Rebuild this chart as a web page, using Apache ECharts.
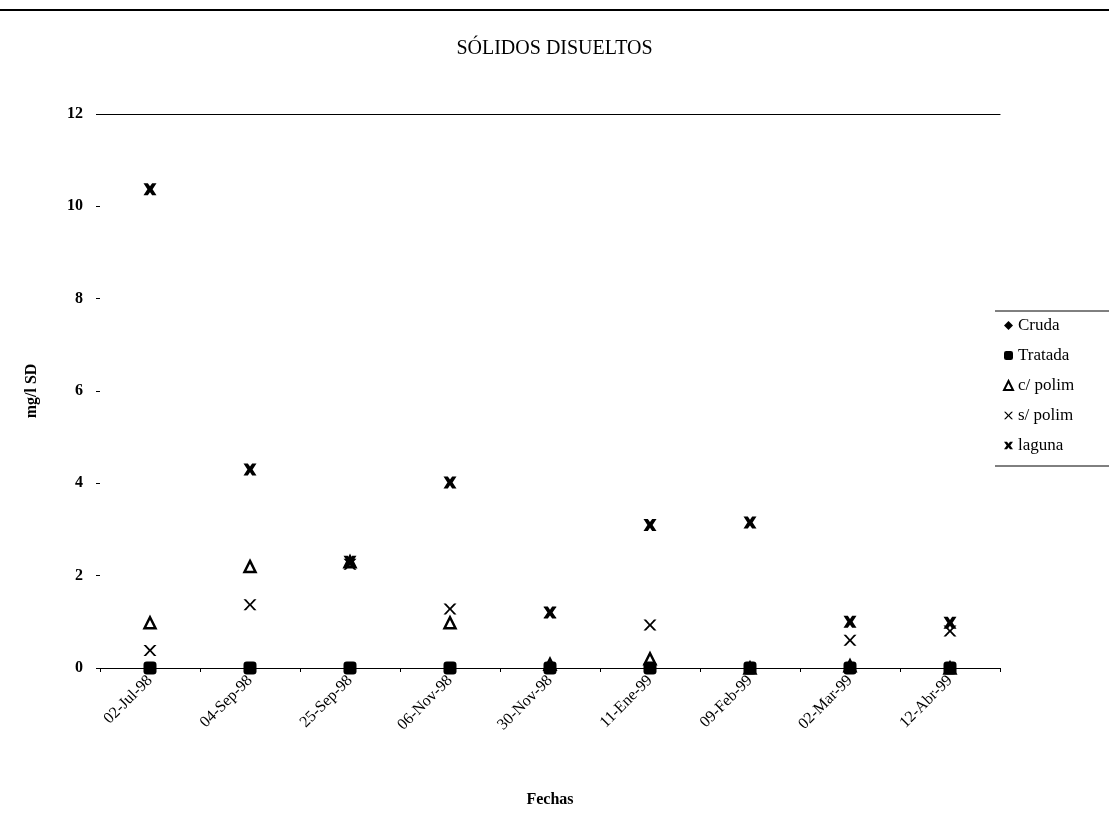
<!DOCTYPE html>
<html>
<head>
<meta charset="utf-8">
<script src="https://cdn.jsdelivr.net/npm/echarts@6/dist/echarts.min.js"></script>
<style>
  html, body { margin: 0; padding: 0; background: #fff; }
  #chart { width: 1109px; height: 830px; }
</style>
</head>
<body>
<div id="chart"></div>
<script>
// Sampling dates
const fechas = ['02-Jul-98', '04-Sep-98', '25-Sep-98', '06-Nov-98', '30-Nov-98', '11-Ene-99', '09-Feb-99', '02-Mar-99', '12-Abr-99'];

// Dissolved solids, mg/l
const cruda   = [0, 0, 0, 0, 0, 0, 0, 0, 0];
const tratada = [0, 0, 0, 0, 0, 0, 0, 0, 0];
const cPolim  = [0.98, 2.2, 2.3, 0.98, 0.08, 0.2, 0, 0.05, 0];
const sPolim  = [0.38, 1.37, 2.25, 1.28, 1.2, 0.93, null, 0.6, 0.8];
const laguna  = [10.37, 4.3, 2.3, 4.02, 1.2, 3.1, 3.15, 1.0, 0.98];

const yTicks = [0, 2, 4, 6, 8, 10, 12];

const serif = 'Liberation Serif';

const thinX = 'path://M0,0 L2.3,0 L6,4 L9.7,0 L12,0 L7.2,5 L12,10 L9.7,10 L6,6 L2.3,10 L0,10 L4.8,5 Z';
const boldX = 'path://M0,0 L4,0 L6,2.6 L8,0 L12,0 L8.4,5 L12,10 L8,10 L6,7.4 L4,10 L0,10 L3.6,5 Z';

function scatter(name, data, symbol, size, itemStyle, z) {
  return {
    name: name,
    type: 'scatter',
    data: data,
    symbol: symbol,
    symbolSize: size,
    itemStyle: Object.assign({ opacity: 1 }, itemStyle),
    z: z,
    emphasis: { disabled: true }
  };
}

const chart = echarts.init(document.getElementById('chart'), null, { renderer: 'canvas' });

chart.setOption({
  animation: false,
  backgroundColor: '#fff',
  title: {
    text: 'SÓLIDOS DISUELTOS',
    left: 'center',
    top: 34,
    textStyle: { fontFamily: serif, fontSize: 20, fontWeight: 'normal', color: '#000' }
  },
  legend: {
    orient: 'vertical',
    left: 998,
    top: 312,
    itemGap: 13,
    itemWidth: 9,
    itemHeight: 9,
    textStyle: { fontFamily: serif, fontSize: 17, color: '#000', padding: [0, 0, 6, 0] },
    data: [
      { name: 'Cruda', icon: 'diamond' },
      { name: 'Tratada', icon: 'roundRect' },
      { name: 'c/ polim', icon: 'triangle' },
      { name: 's/ polim', icon: thinX },
      { name: 'laguna', icon: boldX }
    ]
  },
  grid: { left: 100, right: 109, top: 114, bottom: 162 },
  xAxis: [
    {
      type: 'category',
      data: fechas,
      name: 'Fechas',
      nameLocation: 'middle',
      nameGap: 124,
      nameTextStyle: { fontFamily: serif, fontSize: 16, fontWeight: 'bold', color: '#000' },
      axisLine: { lineStyle: { color: '#000', width: 1.2 } },
      axisTick: { show: true, length: 4, lineStyle: { color: '#000' } },
      axisLabel: {
        rotate: 45,
        margin: 10,
        fontFamily: serif,
        fontSize: 16,
        color: '#000'
      },
      splitLine: { show: false }
    },
    {
      type: 'category',
      data: fechas,
      position: 'top',
      axisLine: { lineStyle: { color: '#000', width: 1.2 } },
      axisTick: { show: false },
      axisLabel: { show: false },
      splitLine: { show: false }
    }
  ],
  yAxis: {
    type: 'value',
    min: 0,
    max: 12,
    interval: 2,
    name: 'mg/l SD',
    nameLocation: 'middle',
    nameGap: 60,
    nameTextStyle: { fontFamily: serif, fontSize: 16, fontWeight: 'bold', color: '#000' },
    axisLine: { show: false },
    axisTick: { show: true, length: 4, lineStyle: { color: '#000' } },
    axisLabel: {
      margin: 17,
      fontFamily: serif,
      fontSize: 16,
      fontWeight: 'bold',
      color: '#000',
      formatter: function (v) { return yTicks.indexOf(v) >= 0 ? String(v) : ''; }
    },
    splitLine: { show: false }
  },
  graphic: [
    { type: 'line', shape: { x1: 0, y1: 10, x2: 1109, y2: 10 }, style: { stroke: '#000', lineWidth: 2 } },
    { type: 'line', shape: { x1: 995, y1: 311, x2: 1109, y2: 311 }, style: { stroke: '#000', lineWidth: 1 } },
    { type: 'line', shape: { x1: 995, y1: 466, x2: 1109, y2: 466 }, style: { stroke: '#000', lineWidth: 1 } }
  ],
  series: [
    scatter('Cruda', cruda, 'diamond', 12, { color: '#000' }, 4),
    scatter('Tratada', tratada, 'roundRect', 13, { color: '#000' }, 5),
    scatter('c/ polim', cPolim, 'triangle', 11, { color: '#fff', borderColor: '#000', borderWidth: 2.5 }, 2),
    scatter('s/ polim', sPolim, thinX, [13, 11], { color: '#000' }, 2),
    scatter('laguna', laguna, boldX, [13, 12], { color: '#000' }, 3)
  ]
});
</script>
</body>
</html>
